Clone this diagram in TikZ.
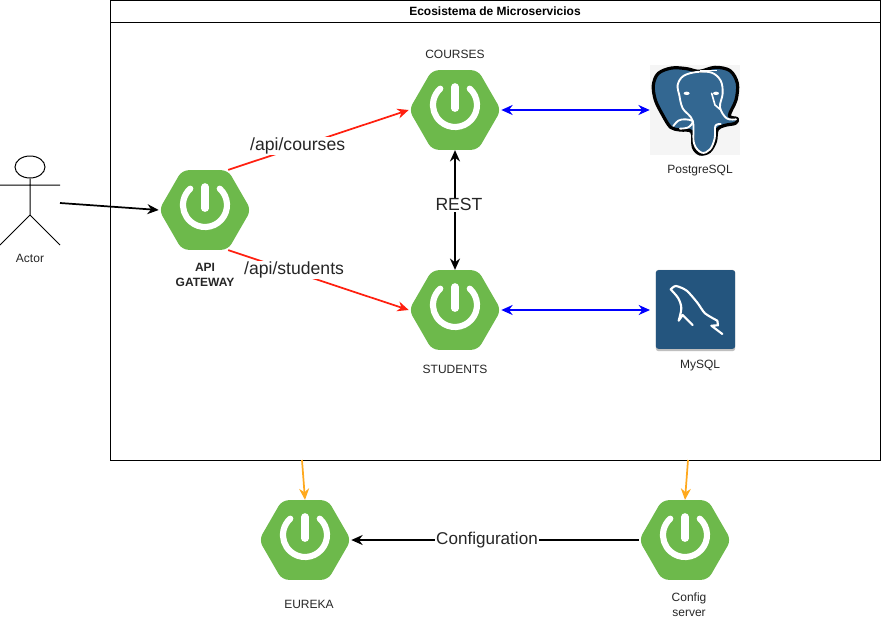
\documentclass[tikz,border=0pt]{standalone}
\usepackage{fontspec}
\setmainfont{Liberation Sans}
\usetikzlibrary{arrows.meta,shapes.geometric}
\definecolor{springgreen}{HTML}{6DB94B}
\definecolor{pgblue}{HTML}{336791}
\definecolor{mysqlblue}{HTML}{24557E}
\definecolor{arrowred}{HTML}{FF2010}
\definecolor{arroworange}{HTML}{FFA91E}
\tikzset{
  hexa/.style={regular polygon,regular polygon sides=6,minimum size=69pt,inner sep=0pt,fill=springgreen,rounded corners=5pt},
  small/.style={font=\fontsize{9}{11.2}\selectfont,text=black!85,align=center,inner sep=0pt},
  biglabel/.style={font=\fontsize{13.2}{15}\selectfont,text=black!85,fill=white,inner sep=0.6pt},
  link/.style={line width=1.3pt,-{Stealth[length=8.5pt,width=7.5pt]}},
  twolink/.style={line width=1.3pt,{Stealth[length=8.5pt,width=7.5pt]}-{Stealth[length=8.5pt,width=7.5pt]}}
}
\begin{document}
\begin{tikzpicture}[x=0.75pt,y=-0.75pt]
\useasboundingbox (0,0) rectangle (881,621);

% Ecosystem frame
\node[draw,fill=white,minimum width=577.5pt,minimum height=345pt,inner sep=0pt,line width=0.75pt] (eco) at (495,230) {};
\node[draw,minimum width=577.5pt,minimum height=16.5pt,inner sep=0pt,line width=0.75pt,font=\fontsize{9}{11}\selectfont\bfseries] (ecotitle) at (495,11) {Ecosistema de Microservicios};

% Services
\node[hexa] (gateway) at (205,210) {};
\node[hexa] (courses) at (455,110) {};
\node[hexa] (students) at (455,310) {};
\node[hexa] (eureka) at (305,540) {};
\node[hexa] (config) at (685,540) {};

% Power icons
\foreach \n in {gateway,courses,students,eureka,config} {
  \draw[white,line width=4.6pt,line cap=round] ([shift={(48:16.5pt)}]\n.center) ++(0,-5) arc[start angle=48,end angle=-228,radius=16.5pt];
  \draw[white,line width=5.4pt,line cap=round] ([yshift=17.4pt]\n.center) -- ([yshift=1.3pt]\n.center);
}

% Service labels
\node[small,font=\fontsize{9}{11.2}\selectfont\bfseries] (gatewaytxt) at (205,275) {API\\GATEWAY};
\node[small] (coursestxt) at (455,54) {COURSES};
\node[small] (studentstxt) at (455,369.5) {STUDENTS};
\node[small] (eurekatxt) at (309,604) {EUREKA};
\node[small] (configtxt) at (689,604.5) {Config\\server};

% Actor
\node[draw,ellipse,minimum width=22.5pt,minimum height=16.5pt,inner sep=0pt,line width=0.75pt] (head) at (30,167) {};
\coordinate (hip) at (30,215);
\coordinate (hand) at (60,203);
\draw[line width=0.75pt] (head) -- (hip) (0,185) -- (60,185) (0,245) -- (hip) -- (60,245);
\node[small] (actortxt) at (30,258.5) {Actor};

% PostgreSQL logo
\node[fill=black!4,minimum size=67.5pt,inner sep=0pt] (pg) at (695,110) {};
\begin{scope}[shift={(630,50)},x=0.25pt,y=-0.25pt]
  \draw[black,fill=pgblue,line width=2.4pt,line join=round] plot[smooth cycle,tension=0.55] coordinates {(70,105) (85,70) (125,54) (170,56) (208,64) (255,52) (300,62) (322,100) (318,150) (298,197) (322,206) (316,220) (285,226) (262,238) (256,275) (238,305) (210,312) (190,292) (185,245) (150,240) (122,232) (98,195) (76,150)};
  \draw[white,line width=1.4pt,line cap=round,line join=round] plot[smooth,tension=0.6] coordinates {(148,135) (143,105) (160,78) (200,66) (245,68) (272,92) (278,130) (270,172) (290,205) (318,208)};
  \draw[white,line width=1.4pt,line cap=round,line join=round] plot[smooth,tension=0.6] coordinates {(148,135) (158,175) (188,212) (192,280) (215,308) (240,298) (254,265) (256,228) (272,222)};
  \draw[white,line width=1.4pt,line cap=round,line join=round] plot[smooth,tension=0.6] coordinates {(130,228) (145,212) (165,208) (188,214) (175,232) (150,236)};
  \draw[white,line width=1.2pt,line cap=round] (245,130) -- (255,165) -- (270,178);
  \draw[white,line width=0.9pt] (210,62) -- (262,62);
  \fill[white] (170,130) ellipse (9 and 5) (258,130) ellipse (9 and 5);
\end{scope}
\node[small] (pgtxt) at (700,170.5) {PostgreSQL};

% MySQL logo
\node[fill=black!25,minimum width=59.5pt,minimum height=61pt,rounded corners=2pt,inner sep=0pt] (mysqlshade) at (695.5,310.5) {};
\node[fill=mysqlblue,minimum width=59.5pt,minimum height=59pt,rounded corners=2pt,inner sep=0pt] (mysql) at (695.5,309.5) {};
\begin{scope}[shift={(640,260)},x=0.25pt,y=-0.25pt]
  \draw[white,line width=1.6pt,line cap=round,line join=round] plot[smooth,tension=0.45] coordinates {(92,88) (108,78) (140,92) (172,128) (195,160) (232,182)} -- (234,196) -- (214,197) -- (247,222);
  \draw[white,line width=1.6pt,line cap=round,line join=round] plot[smooth,tension=0.5] coordinates {(92,88) (115,115) (124,145) (116,182)} -- (128,165) -- (158,195);
\end{scope}
\node[small] (mysqltxt) at (700,365.5) {MySQL};

% Connections
\draw[link] (hand) -- (gateway.west);
\draw[link,arrowred] (gateway.60) -- (courses.west) node[biglabel,pos=0.385,yshift=1pt] (coursesroute) {/api/courses};
\draw[link,arrowred] (gateway.-60) -- (students.west) node[biglabel,pos=0.365,yshift=1.2pt] (studentsroute) {/api/students};
\draw[twolink] (courses.south) -- (students.north) node[biglabel,midway,yshift=4pt,xshift=3pt] (resttxt) {REST};
\draw[twolink,blue] (courses.east) -- (pg.west);
\draw[twolink,blue] (students.east) -- (650,310) coordinate (mysqlin);
\coordinate (ecoa) at (302,460);
\coordinate (ecob) at (688,460);
\draw[link,arroworange] (ecoa) -- (eureka.north);
\draw[link,arroworange] (ecob) -- (config.north);
\draw[link] (config.west) -- (eureka.east) node[biglabel,midway,yshift=0pt,xshift=-6pt,font=\fontsize{12.8}{15}\selectfont] (configtxt2) {Configuration};
\end{tikzpicture}
\end{document}
